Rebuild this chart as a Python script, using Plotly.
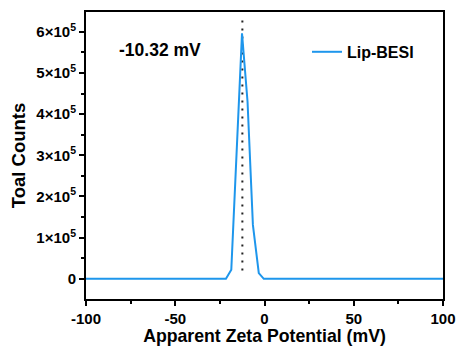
import plotly.graph_objects as go

# Zeta potential distribution for Lip-BESI
zeta_mv = [-100, -21.6, -18.6, -12.6, -9.5, -6.5, -3.2, -0.4, 100]
counts = [0, 0, 0.22e5, 5.96e5, 4.3e5, 1.31e5, 0.14e5, 0, 0]

series_name = "Lip-BESI"
mean_label = "-10.32 mV"
peak_x = -12.4
marker_y = [0.2e5, 6.4e5]

y_tickvals = [0, 1e5, 2e5, 3e5, 4e5, 5e5, 6e5]
y_ticktext = ["0"] + [f"{i}\u00d710<sup>5</sup>" for i in range(1, 7)]
x_tickvals = [-100, -50, 0, 50, 100]
x_ticktext = ["-100", "-50", "0", "50", "100"]

FONT = "Arial, Liberation Sans, sans-serif"


def bold(labels):
    return [f"<b>{t}</b>" for t in labels]


fig = go.Figure()

# dotted guide through the peak
fig.add_trace(go.Scatter(
    x=[peak_x, peak_x], y=marker_y, mode="lines",
    line=dict(color="#222222", width=2, dash="2px,6px"),
    showlegend=False, hoverinfo="skip",
))

fig.add_trace(go.Scatter(
    x=zeta_mv, y=counts, mode="lines", name=f"<b>{series_name}</b>",
    line=dict(color="#1E96EC", width=2),
))

fig.add_annotation(
    x=-58.7, y=5.55e5, xref="x", yref="y", text=f"<b>{mean_label}</b>",
    showarrow=False, font=dict(family=FONT, size=17.5, color="black"),
    xanchor="center", yanchor="middle",
)

axis_common = dict(
    showline=True, linecolor="black", linewidth=2, mirror=True,
    ticks="outside", ticklen=5, tickwidth=1.5, tickcolor="black",
    showgrid=False, zeroline=False, automargin=False,
    tickfont=dict(family=FONT, size=15, color="black"),
)

fig.update_xaxes(
    **axis_common,
    range=[-100, 100], tickvals=x_tickvals, ticktext=bold(x_ticktext),
    minor=dict(ticks="outside", ticklen=3, tickwidth=1.5, tickcolor="black",
               tickvals=[-75, -25, 25, 75]),
    title=dict(text="<b>Apparent Zeta Potential (mV)</b>",
               font=dict(family=FONT, size=17.7, color="black"), standoff=3),
)

fig.update_yaxes(
    **axis_common,
    range=[-0.49e5, 6.48e5], tickvals=y_tickvals, ticktext=bold(y_ticktext),
    minor=dict(ticks="outside", ticklen=3, tickwidth=1.5, tickcolor="black",
               tickvals=[0.5e5, 1.5e5, 2.5e5, 3.5e5, 4.5e5, 5.5e5]),
    title=dict(text="<b>Toal Counts</b>",
               font=dict(family=FONT, size=18.5, color="black"), standoff=6),
)

fig.update_layout(
    width=459, height=346,
    margin=dict(l=86, r=16, t=12, b=47),
    plot_bgcolor="white", paper_bgcolor="white",
    legend=dict(
        x=0.619, y=0.861, xanchor="left", yanchor="middle",
        bgcolor="rgba(0,0,0,0)", itemwidth=30,
        font=dict(family=FONT, size=16, color="black"),
    ),
)

fig.write_html("out.html")
